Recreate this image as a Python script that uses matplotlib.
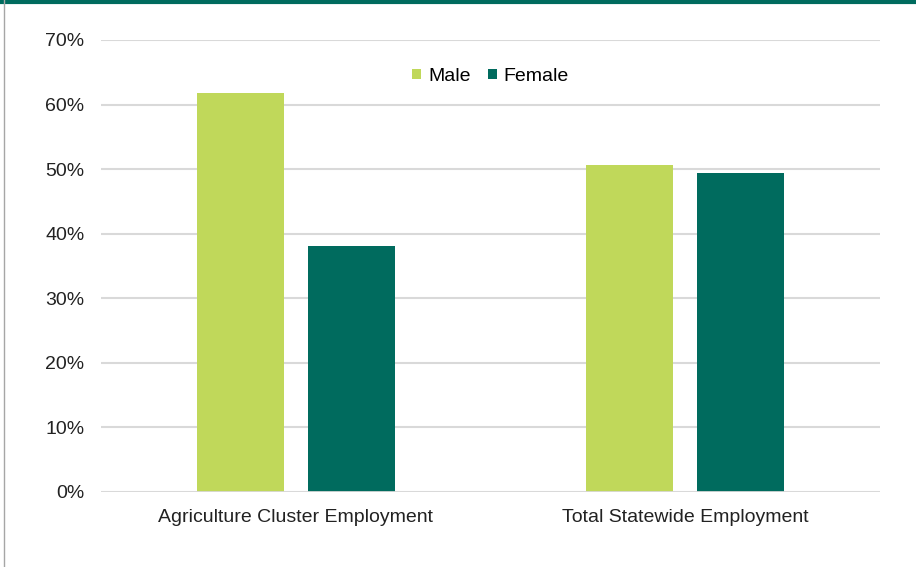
import matplotlib
matplotlib.use("Agg")
import matplotlib.pyplot as plt
from matplotlib.lines import Line2D
import numpy as np

plt.rcParams['font.family'] = ['Liberation Sans', 'DejaVu Sans']

categories = ["Agriculture Cluster Employment", "Total Statewide Employment"]
male = [61.8, 50.6]
female = [38.1, 49.4]
yticks = [0, 10, 20, 30, 40, 50, 60, 70]

c_male = "#C0D85A"
c_female = "#006B5E"

fig = plt.figure(figsize=(9.16, 5.67), dpi=100)
ax = fig.add_axes([101/916, 1-492/567, 779/916, 452/567])

x = np.arange(len(categories))
w = 0.223
off = 0.1425
ax.bar(x - off, male, w, color=c_male, label="Male", zorder=3)
ax.bar(x + off, female, w, color=c_female, label="Female", zorder=3)

ax.set_xlim(-0.5, 1.5)
ax.set_ylim(0, 70)
ax.set_yticks(yticks)
ax.set_yticklabels([f"{t}%" for t in yticks], fontsize=14, color="#222222")
ax.set_xticks(x)
ax.set_xticklabels(categories, fontsize=14, color="#222222")
ax.tick_params(axis='both', length=0)
ax.tick_params(axis='y', pad=12)
ax.tick_params(axis='x', pad=12)
ax.grid(axis='y', color="#D9D9D9", linewidth=1.5, zorder=0)
for s in ax.spines.values():
    s.set_visible(False)
ax.axhline(0, color="#D9D9D9", linewidth=2, zorder=4)

ax.legend(loc='upper center', bbox_to_anchor=(0.5, 0.977), ncol=2, frameon=False,
          fontsize=14, handlelength=0.45, handleheight=0.45, handletextpad=0.35,
          columnspacing=0.9)

fig.add_artist(Line2D([0, 1], [1 - 1.5/567, 1 - 1.5/567], transform=fig.transFigure,
                      color="#006B5E", linewidth=3))
fig.add_artist(Line2D([3.5/916, 3.5/916], [0, 1], transform=fig.transFigure,
                      color="#A6A6A6", linewidth=1))

fig.savefig("out.png", dpi=100)
